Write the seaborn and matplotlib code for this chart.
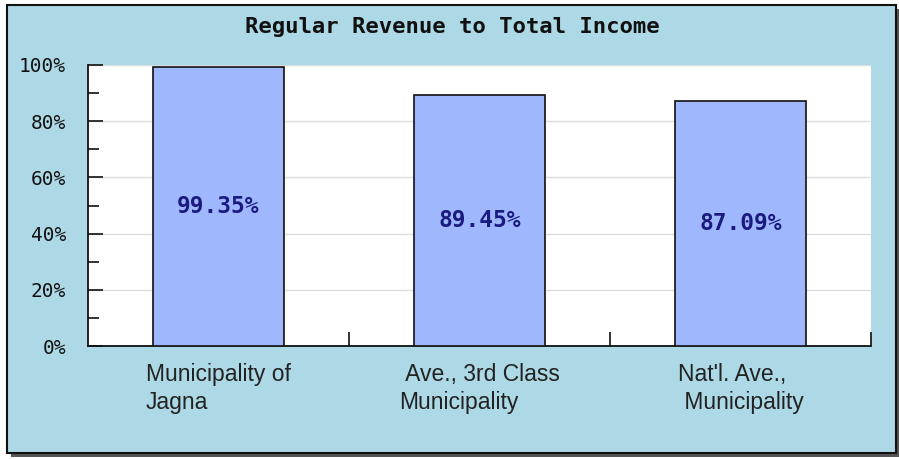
import matplotlib
matplotlib.use("Agg")
import matplotlib.pyplot as plt
import seaborn as sns
import pandas as pd
from matplotlib.patches import Rectangle
from matplotlib.ticker import MultipleLocator, FuncFormatter

categories = ["Municipality of\nJagna", " Ave., 3rd Class\nMunicipality", "Nat'l. Ave.,\n Municipality"]
values = [99.35, 89.45, 87.09]
value_labels = ["99.35%", "89.45%", "87.09%"]
title = "Regular Revenue to Total Income"

df = pd.DataFrame({"cat": categories, "val": values})

sns.set_style("white")
W, H = 899, 459
fig = plt.figure(figsize=(W / 100, H / 100), dpi=100, facecolor="white")

# shadow and framed background
fig.patches.append(Rectangle((11 / W, 1 - 457 / H), 889 / W, 448 / H, transform=fig.transFigure,
                             facecolor="#555555", edgecolor="none", zorder=0))
fig.patches.append(Rectangle((7 / W, 1 - 453 / H), 889 / W, 448 / H, transform=fig.transFigure,
                             facecolor="#add8e6", edgecolor="#111111", linewidth=1.5, zorder=1))

left, right, top, bottom = 88, 871, 65, 346
ax = fig.add_axes([left / W, 1 - bottom / H, (right - left) / W, (bottom - top) / H])
ax.set_facecolor("white")
ax.set_zorder(2)

sns.barplot(data=df, x="cat", y="val", ax=ax, color="#9fb8fd", width=0.5,
            edgecolor="#111111", linewidth=1.2, saturation=1, zorder=3)

ax.set_xlim(-0.5, 2.5)
ax.set_ylim(0, 100)
ax.yaxis.set_major_locator(MultipleLocator(20))
ax.yaxis.set_minor_locator(MultipleLocator(10))
ax.yaxis.set_major_formatter(FuncFormatter(lambda v, p: f"{int(v)}%"))
ax.grid(axis="y", which="major", color="#dddddd", linewidth=1, zorder=0)
ax.set_axisbelow(True)

for s in ["top", "right"]:
    ax.spines[s].set_visible(False)
for s in ["left", "bottom"]:
    ax.spines[s].set_color("#111111")
    ax.spines[s].set_linewidth(1.3)

ax.tick_params(axis="y", which="major", left=True, direction="in", length=11, width=1.2,
               color="#111111", pad=16, labelsize=14, labelcolor="#111111")
ax.tick_params(axis="y", which="minor", left=True, direction="in", length=8, width=1.2, color="#111111")
for t in ax.get_yticklabels():
    t.set_fontfamily("DejaVu Sans Mono")

# x: boundary ticks inward, labels at centers
ax.set_xticks([0, 1, 2])
ax.set_xticklabels(categories, fontfamily="Liberation Sans", fontsize=16.5, color="#222222",
                   multialignment="left", linespacing=1.3)
ax.tick_params(axis="x", which="major", bottom=False, length=0, pad=12)
ax.set_xticks([0.5, 1.5, 2.5], minor=True)
ax.tick_params(axis="x", which="minor", bottom=True, direction="in", length=10, width=1.2, color="#111111")
ax.set_xlabel("")
ax.set_ylabel("")

for i, (v, lab) in enumerate(zip(values, value_labels)):
    ax.text(i, v / 2, lab, ha="center", va="center", fontfamily="DejaVu Sans Mono",
            fontweight="bold", fontsize=16.5, color="#1a1a80", zorder=5)

fig.text(452 / W, 1 - 27 / H, title, ha="center", va="center", fontfamily="DejaVu Sans Mono",
         fontweight="bold", fontsize=16, color="#111111")

fig.savefig("out.png", dpi=100, facecolor="white")
